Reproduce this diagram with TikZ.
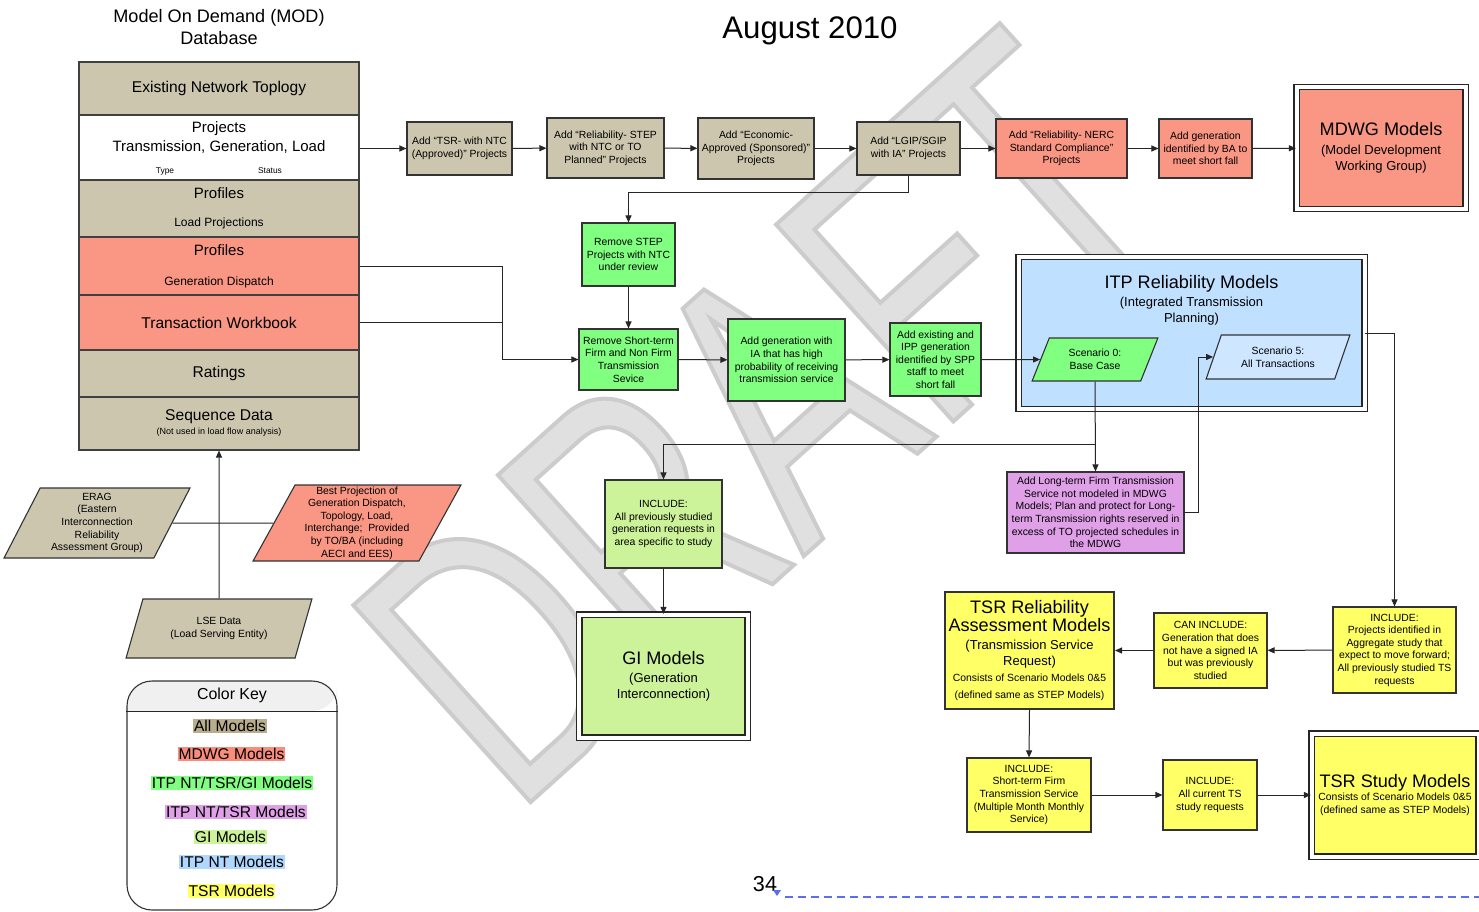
\documentclass[tikz,border=0pt]{standalone}
\usepackage{fontspec}
\setmainfont{Liberation Sans}
\newfontfamily\draftfont[FakeStretch=0.7]{Liberation Sans}
\usetikzlibrary{arrows.meta,shapes.geometric,positioning}
\definecolor{tanfill}{RGB}{204,198,174}
\definecolor{salmon}{RGB}{250,150,132}
\definecolor{ntgreen}{RGB}{128,255,128}
\definecolor{gilime}{RGB}{204,242,154}
\definecolor{itpblue}{RGB}{192,224,255}
\definecolor{scblue}{RGB}{206,230,255}
\definecolor{tsrpurple}{RGB}{224,160,232}
\definecolor{tsryellow}{RGB}{255,255,102}
\definecolor{keytan}{RGB}{184,174,142}
\definecolor{keysalmon}{RGB}{250,140,124}
\definecolor{keyblue}{RGB}{176,216,255}
\definecolor{pageblue}{RGB}{90,110,240}
\newcommand{\fsm}{\fontsize{10.4}{12.6}\selectfont}
\newcommand{\ftiny}{\fontsize{8.4}{10}\selectfont}
\newcommand{\fmid}{\fontsize{13}{16}\selectfont}
\newcommand{\fdb}{\fontsize{15.6}{19}\selectfont}
\newcommand{\fbig}{\fontsize{18.1}{22}\selectfont}

\begin{document}
\begin{tikzpicture}[x=1pt, y=-1pt,
    box/.style={rectangle, draw=black!80, line width=1.1pt, align=center, inner sep=1pt, font=\fsm},
    dbrow/.style={rectangle, draw=black!75, line width=1.1pt, minimum width=280pt, align=center, font=\fdb, inner sep=0pt},
    model/.style={rectangle, draw=black!85, line width=1.3pt, double=white, double distance=4pt, align=center, inner sep=0pt, font=\fmid},
    para/.style={trapezium, trapezium left angle=64, trapezium right angle=116, trapezium stretches, draw=black!80, line width=1.1pt, align=center, font=\fsm, inner sep=0pt},
    keyitem/.style={font=\fdb, inner xsep=1pt, inner ysep=1.5pt},
    arrow/.style={-{Triangle[length=7pt,width=6pt]}, line width=1pt, black!85},
    link/.style={line width=1pt, black!85},
]
\useasboundingbox (0,0) rectangle (1479,912);
\fill[white] (0,0) rectangle (1479,912);

% watermark
\node[rotate=42, anchor=base west, text=gray!17, font=\draftfont\fontsize{385}{385}\selectfont, inner sep=0pt] (draft) at (514,817) {\special{pdf:code 2 Tr 4 w 0.88 g 0.8 G}DRAFT\special{pdf:code 0 Tr}};

% titles
\node[font=\fbig, align=center] (modtitle) at (219,27) {Model On Demand (MOD)\\Database};
\node[font=\fontsize{31.2}{36}\selectfont] (date) at (810,31) {August 2010};

% MOD database stack
\node[dbrow, fill=tanfill, minimum height=53pt] (ent) at (219,88.5) {Existing Network Toplogy};
\node[dbrow, fill=white, minimum height=65pt] (proj) at (219,147.5) {};
\node[font=\fontsize{15}{19}\selectfont, align=center] (projtxt) at (219,137.5) {Projects\\Transmission, Generation, Load};
\node[font=\ftiny] (ptype) at (165,171) {Type};
\node[font=\ftiny] (pstat) at (270,171) {Status};
\node[dbrow, fill=tanfill, minimum height=57pt] (lp) at (219,208.5) {};
\node[font=\fontsize{15}{19}\selectfont] (lptop) at (219,193) {Profiles};
\node[font=\fontsize{12}{14}\selectfont] (lpbot) at (219,223) {Load Projections};
\node[dbrow, fill=salmon, minimum height=58pt] (gd) at (219,266) {};
\node[font=\fontsize{15}{19}\selectfont] (gdtop) at (219,250) {Profiles};
\node[font=\fontsize{12}{14}\selectfont] (gdbot) at (219,282) {Generation Dispatch};
\node[dbrow, fill=salmon, minimum height=55pt] (tw) at (219,322.5) {Transaction Workbook};
\node[dbrow, fill=tanfill, minimum height=47pt] (rat) at (219,373.5) {Ratings};
\node[dbrow, fill=tanfill, minimum height=53pt] (seq) at (219,423.5) {};
\node[font=\fdb] (seqtop) at (219,417) {Sequence Data};
\node[font=\fontsize{9}{11}\selectfont] (seqbot) at (219,432) {(Not used in load flow analysis)};

% inputs to the database
\node[para, fill=tanfill, minimum width=186pt, minimum height=70pt] (erag) at (97,523) {ERAG\\(Eastern\\Interconnection\\Reliability\\Assessment Group)};
\node[para, fill=salmon, minimum width=208pt, minimum height=76pt] (best) at (357,523) {Best Projection of\\Generation Dispatch,\\Topology, Load,\\Interchange;\ \ Provided\\by TO/BA (including\\AECI and EES)};
\node[para, fill=tanfill, minimum width=186pt, minimum height=59pt] (lse) at (219,628.5) {LSE Data\\(Load Serving Entity)};

% MDWG chain
\node[box, fill=tanfill, minimum width=105pt, minimum height=53pt] (tsr) at (459.5,148.5) {Add “TSR- with NTC\\(Approved)” Projects};
\node[box, fill=tanfill, minimum width=117pt, minimum height=60pt] (rel) at (605.5,148) {Add “Reliability- STEP\\with NTC or TO\\Planned” Projects};
\node[box, fill=tanfill, minimum width=116pt, minimum height=61pt] (econ) at (756,148.5) {Add “Economic-\\Approved (Sponsored)”\\Projects};
\node[box, fill=tanfill, minimum width=103pt, minimum height=53pt] (lgip) at (908.5,148.5) {Add “LGIP/SGIP\\with IA” Projects};
\node[box, fill=salmon, minimum width=131pt, minimum height=59pt] (nerc) at (1061.5,148.5) {Add “Reliability- NERC\\Standard Compliance”\\Projects};
\node[box, fill=salmon, minimum width=93pt, minimum height=59pt] (ba) at (1205.5,148.5) {Add generation\\identified by BA to\\meet short fall};
\node[model, fill=salmon, minimum width=169pt, minimum height=122pt] (mdwg) at (1381,148) {{\fbig MDWG Models}\\[3pt](Model Development\\Working Group)};

% ITP chain
\node[box, fill=ntgreen, minimum width=93pt, minimum height=63pt] (step) at (628.5,254.5) {Remove STEP\\Projects with NTC\\under review};
\node[box, fill=ntgreen, minimum width=99pt, minimum height=61pt] (stf) at (628.5,359.5) {Remove Short-term\\Firm and Non Firm\\Transmission\\Sevice};
\node[box, fill=ntgreen, minimum width=117pt, minimum height=82pt] (gen) at (786.5,360) {Add generation with\\IA that has high\\probability of receiving\\transmission service};
\node[box, fill=ntgreen, minimum width=91pt, minimum height=73pt] (ipp) at (935.5,359.5) {Add existing and\\IPP generation\\identified by SPP\\staff to meet\\short fall};
\node[model, fill=itpblue, minimum width=346pt, minimum height=152pt] (itp) at (1191.5,333) {};
\node[font=\fmid, align=center] (itptitle) at (1191.5,300) {{\fbig ITP Reliability Models}\\[2pt](Integrated Transmission\\Planning)};
\node[para, fill=ntgreen, minimum width=126pt, minimum height=43pt] (sc0) at (1095,359.5) {Scenario 0:\\Base Case};
\node[para, fill=scblue, minimum width=144pt, minimum height=44pt] (sc5) at (1278,357) {Scenario 5:\\All Transactions};
\node[box, fill=tsrpurple, minimum width=177pt, minimum height=81pt] (lt) at (1095.5,512.5) {Add Long-term Firm Transmission\\Service not modeled in MDWG\\Models; Plan and protect for Long-\\term Transmission rights reserved in\\excess of TO projected schedules in\\the MDWG};

% GI chain
\node[box, fill=gilime, minimum width=117pt, minimum height=88pt] (gii) at (663.5,524) {INCLUDE:\\All previously studied\\generation requests in\\area specific to study};
\node[model, fill=gilime, minimum width=168.5pt, minimum height=123pt] (gim) at (663.5,676) {{\fbig GI Models}\\[2pt](Generation\\Interconnection)};

% TSR chain
\node[box, fill=tsryellow, line width=2pt, minimum width=169pt, minimum height=117pt, font=\fmid] (tsrrel) at (1029.5,650.5) {{\fbig TSR Reliability}\\{\fbig Assessment Models}\\[2pt](Transmission Service\\Request)\\{\fsm Consists of Scenario Models 0\&5}\\[1pt]{\fsm (defined same as STEP Models)}};
\node[box, fill=tsryellow, minimum width=113pt, minimum height=75pt] (can) at (1210.5,650.5) {CAN INCLUDE:\\Generation that does\\not have a signed IA\\but was previously\\studied};
\node[box, fill=tsryellow, minimum width=123pt, minimum height=86pt] (incts) at (1394.5,650) {INCLUDE:\\Projects identified in\\Aggregate study that\\expect to move forward;\\All previously studied TS\\requests};
\node[box, fill=tsryellow, minimum width=124pt, minimum height=74pt] (stinc) at (1029,795) {INCLUDE:\\Short-term Firm\\Transmission Service\\(Multiple Month Monthly\\Service)};
\node[box, fill=tsryellow, minimum width=94pt, minimum height=70pt] (cur) at (1210,795) {INCLUDE:\\All current TS\\study requests};
\node[model, fill=tsryellow, minimum width=167pt, minimum height=123pt, font=\fsm] (study) at (1395,795) {{\fbig TSR Study Models}\\Consists of Scenario Models 0\&5\\(defined same as STEP Models)};

% connectors
\draw[arrow] (proj.east |- tsr.west) -- (tsr.west);
\draw[arrow] (tsr) -- (rel);
\draw[arrow] (rel) -- (econ);
\draw[arrow] (econ) -- (lgip);
\draw[arrow] (lgip) -- (nerc);
\draw[arrow] (nerc) -- (ba);
\draw[arrow] (ba) -- (mdwg);
\draw[arrow] (lgip.south) -- ++(0,17) -| (step.north);
\draw[arrow] (step) -- (stf);
\coordinate (jn) at (502,359.5);
\draw[arrow] (gd.east) -| (jn) -- (stf.west);
\draw[link] (tw.east) -- (tw.east -| jn);
\draw[arrow] (stf) -- (gen);
\draw[arrow] (gen) -- (ipp);
\draw[arrow] (ipp) -- (sc0.west);
\draw[arrow] (sc0.south) -- (lt.north);
\coordinate (br) at (1095,444);
\draw[arrow] (br) -| (gii.north);
\draw[arrow] (lt.east) -- ++(14,0) |- (sc5.west);
\draw[arrow] (itp.east) -| (incts.north);
\draw[arrow] (gii) -- (gim);
\draw[arrow] (incts) -- (can);
\draw[arrow] (can) -- (tsrrel);
\draw[arrow] (tsrrel.south) -- (stinc.north);
\draw[arrow] (stinc) -- (cur);
\draw[arrow] (cur) -- (study);
\draw[arrow] (lse.north) -- (seq.south);
\draw[link] (erag.east) -- (best.west);

% colour key
\fill[black!6, rounded corners=25pt] (127,711) |- (232,681) -| (337,711) [sharp corners] -- cycle;
\node[draw=black!80, line width=1.1pt, rounded corners=25pt, minimum width=210pt, minimum height=229pt] (ckey) at (232,795.5) {};
\draw[link] (ckey.west |- 0,711) -- (ckey.east |- 0,711);
\node[font=\fontsize{15.9}{19}\selectfont] (ckeyhead) at (232,695) {Color Key};
\node[keyitem, fill=keytan] (kall) at (230,726) {All Models};
\node[keyitem, fill=keysalmon] (kmdwg) at (231.5,754) {MDWG Models};
\node[keyitem, fill=ntgreen] (kntg) at (232,783) {ITP NT/TSR/GI Models};
\node[keyitem, fill=tsrpurple] (knt) at (236,812) {ITP NT/TSR Models};
\node[keyitem, fill=gilime] (kgi) at (230.5,837) {GI Models};
\node[keyitem, fill=keyblue] (kitp) at (232,862) {ITP NT Models};
\node[keyitem, fill=tsryellow] (ktsr) at (231.5,891) {TSR Models};

% page footer
\node[font=\fontsize{21.6}{24}\selectfont] (pgnum) at (765,884) {34};
\fill[pageblue] (773,890) -- (781,890) -- (777,896) -- cycle;
\coordinate (dl) at (785,897);
\coordinate (dr) at (1479,897);
\draw[pageblue, line width=1.2pt, dash pattern=on 8pt off 5pt] (dl) -- (dr);
\end{tikzpicture}
\end{document}
